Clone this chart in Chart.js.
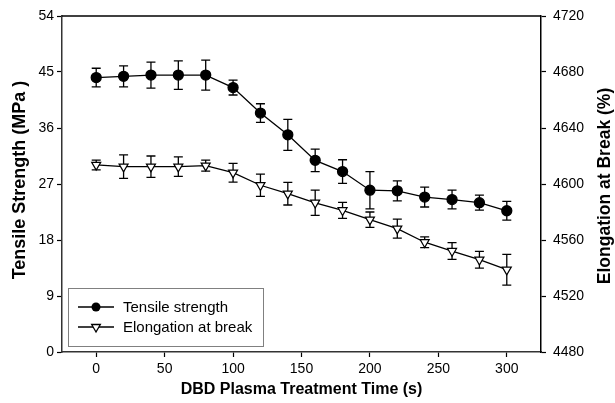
<!DOCTYPE html>
<html><head><meta charset="utf-8">
<script src="https://cdn.jsdelivr.net/npm/chart.js@4"></script>
<style>html,body{margin:0;padding:0;background:#fff}#wrap{width:615px;height:403px}</style>
</head><body><div id="wrap"><canvas id="c" width="615" height="403"></canvas></div>
<script>
const times = [0,20,40,60,80,100,120,140,160,180,200,220,240,260,280,300];
const tensile = [44.1,44.3,44.5,44.5,44.5,42.5,38.4,34.9,30.8,29.0,26.0,25.9,24.9,24.5,24.0,22.7];
const tensileErr = [1.5,1.7,2.1,2.3,2.4,1.2,1.5,2.5,1.8,1.9,3.0,1.6,1.6,1.5,1.2,1.5];
const elongation = [4613.6,4612.4,4612.4,4612.4,4613.1,4608.1,4599.1,4593.1,4586.6,4581.2,4574.5,4568.1,4558.4,4552.1,4545.9,4538.8];
const elongationErr = [3.5,8.4,7.6,7.0,3.9,6.7,8.0,8.1,9.0,5.7,5.5,6.8,3.9,6.0,6.0,11.0];
const xTickValues = [0,50,100,150,200,250,300];
const seriesLabels = ['Tensile strength','Elongation at break'];
const xTitle = 'DBD Plasma Treatment Time (s)';
const yTitle = 'Tensile Strength (MPa )';
const y2Title = 'Elongation at Break (%)';

const FONT = "'Liberation Sans', Arial, sans-serif";

const pts = (ys) => times.map((t,i)=>({x:t,y:ys[i]}));

const errorBars = {
  id:'errorBars',
  beforeDatasetsDraw(chart){
    const ctx = chart.ctx;
    chart.data.datasets.forEach((ds)=>{
      const ys = chart.scales[ds.yAxisID], xs = chart.scales.x;
      ctx.save();
      ctx.strokeStyle = '#000'; ctx.lineWidth = 1.3;
      ds.data.forEach((p,j)=>{
        const e = ds.errors[j];
        const x = xs.getPixelForValue(p.x);
        const y1 = ys.getPixelForValue(p.y+e), y2 = ys.getPixelForValue(p.y-e);
        ctx.beginPath();
        ctx.moveTo(x,y1); ctx.lineTo(x,y2);
        ctx.moveTo(x-4.5,y1); ctx.lineTo(x+4.5,y1);
        ctx.moveTo(x-4.5,y2); ctx.lineTo(x+4.5,y2);
        ctx.stroke();
      });
      ctx.restore();
    });
  }
};

const decor = {
  id:'decor',
  afterDraw(chart){
    const ctx = chart.ctx, a = chart.chartArea;
    ctx.save();
    ctx.strokeStyle='#000'; ctx.lineWidth=1.5;
    ctx.beginPath(); ctx.moveTo(a.left, a.top); ctx.lineTo(a.right, a.top); ctx.stroke();
    ctx.fillStyle='#000';
    ctx.textAlign='center'; ctx.textBaseline='middle';
    ctx.font = "bold 16px " + FONT;
    ctx.fillText(xTitle, (a.left+a.right)/2, 390);
    const cy = (a.top+a.bottom)/2;
    ctx.font = "bold 18px " + FONT;
    ctx.save(); ctx.translate(20, cy-4); ctx.rotate(-Math.PI/2); ctx.fillText(yTitle,0,0); ctx.restore();
    ctx.font = "bold 17.5px " + FONT;
    ctx.save(); ctx.translate(605, cy+2); ctx.rotate(-Math.PI/2); ctx.fillText(y2Title,0,0); ctx.restore();
    // legend
    ctx.strokeStyle='#808080'; ctx.lineWidth=1;
    ctx.strokeRect(68.5,288.5,195,58);
    const rows=[307,327];
    chart.data.datasets.forEach((ds,i)=>{
      const y=rows[i];
      ctx.strokeStyle='#000'; ctx.lineWidth=1.3;
      ctx.beginPath(); ctx.moveTo(78,y); ctx.lineTo(114,y); ctx.stroke();
      if(i===0){
        ctx.fillStyle='#000'; ctx.beginPath(); ctx.arc(96,y,4.5,0,Math.PI*2); ctx.fill();
      } else {
        const r=5;
        ctx.fillStyle='#fff';
        ctx.beginPath();
        ctx.moveTo(96, y+r);
        ctx.lineTo(96 - r*Math.sin(Math.PI/3), y - r/2);
        ctx.lineTo(96 + r*Math.sin(Math.PI/3), y - r/2);
        ctx.closePath(); ctx.fill(); ctx.stroke();
      }
      ctx.fillStyle='#000';
      ctx.font = "15px " + FONT;
      ctx.textAlign='left'; ctx.textBaseline='middle';
      ctx.fillText(ds.label, 123, y+1);
    });
    ctx.restore();
  }
};

const plainTick = (v) => String(v);

new Chart(document.getElementById('c'), {
  type:'line',
  data:{
    datasets:[
      {label:seriesLabels[0], data:pts(tensile), errors:tensileErr, yAxisID:'y',
       borderColor:'#000', borderWidth:1.3, backgroundColor:'#000',
       pointStyle:'circle', pointRadius:5, pointBackgroundColor:'#000', pointBorderColor:'#000', tension:0},
      {label:seriesLabels[1], data:pts(elongation), errors:elongationErr, yAxisID:'y2',
       borderColor:'#000', borderWidth:1.3, backgroundColor:'#fff',
       pointStyle:'triangle', pointRotation:180, pointRadius:5.2, pointBorderWidth:1.2,
       pointBackgroundColor:'#fff', pointBorderColor:'#000', tension:0}
    ]
  },
  options:{
    responsive:false, animation:false, devicePixelRatio:1,
    layout:{padding:{top:16,left:0,right:0,bottom:0}},
    plugins:{legend:{display:false}, tooltip:{enabled:false}},
    scales:{
      x:{type:'linear', min:-25, max:325,
         afterBuildTicks:(s)=>{ s.ticks = xTickValues.map(v=>({value:v})); },
         afterFit:(s)=>{ s.height=51; },
         grid:{drawOnChartArea:false, drawTicks:true, tickLength:5, color:'#000', tickWidth:1.2},
         border:{display:true, color:'#333', width:1.5},
         ticks:{color:'#000', font:{family:FONT, size:14}, padding:4, maxRotation:0, callback:plainTick}},
      y:{type:'linear', position:'left', min:0, max:54,
         afterFit:(s)=>{ s.width=62; },
         grid:{drawOnChartArea:false, drawTicks:true, tickLength:5, color:'#000', tickWidth:1.2},
         border:{display:true, color:'#333', width:1.5},
         ticks:{stepSize:9, color:'#000', font:{family:FONT, size:14}, padding:3, callback:plainTick}},
      y2:{type:'linear', position:'right', min:4480, max:4720,
         afterFit:(s)=>{ s.width=74; },
         grid:{drawOnChartArea:false, drawTicks:true, tickLength:5, color:'#000', tickWidth:1.2},
         border:{display:true, color:'#000', width:1.5},
         ticks:{stepSize:40, color:'#000', font:{family:FONT, size:14}, padding:7, callback:plainTick}}
    }
  },
  plugins:[errorBars, decor]
});
</script>
</body></html>
